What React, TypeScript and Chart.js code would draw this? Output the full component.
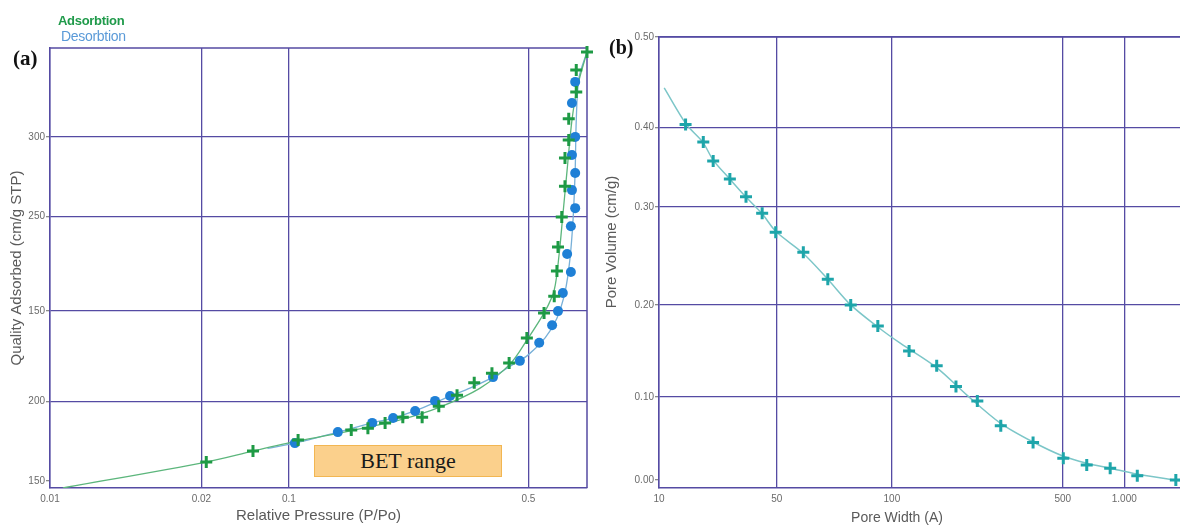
import React, { useEffect, useRef } from "react";
import { Chart, registerables } from "chart.js";

Chart.register(...registerables);

// ---------- Panel (a): N2 isotherm ----------
// The printed tick labels of this panel are unevenly spaced, so values are kept
// in the panel's own axis units (0–100 along each axis).
const isoXTickPos = [0, 28.2, 44.5, 89.1];
const isoXTickLabels = ["0.01", "0.02", "0.1", "0.5"];
const isoYTickPos = [1.6, 19.7, 40.2, 61.7, 79.8];
const isoYTickLabels = ["150", "200", "150", "250", "300"];

const adsorptionMarkX = [29.1, 37.8, 46.2, 56.1, 59.2, 62.4, 65.7, 69.3, 72.4, 75.8, 79.0, 82.3, 85.5, 88.8, 92.0, 93.9, 94.4, 94.6, 95.3, 95.9, 95.9, 96.6, 96.6, 98.0, 98.0, 100];
const adsorptionMarkY = [5.9, 8.4, 10.9, 13.2, 13.6, 14.8, 16.1, 16.1, 18.6, 21.1, 23.9, 26.1, 28.4, 34.1, 39.8, 43.6, 49.3, 54.8, 61.6, 68.6, 75.0, 79.1, 83.9, 90.0, 95.0, 99.1];

const desorptionMarkX = [97.8, 97.2, 97.8, 97.2, 97.8, 97.2, 97.8, 97.0, 96.3, 97.0, 95.5, 94.6, 93.5, 91.1, 87.5, 82.5, 74.5, 71.7, 68.0, 63.9, 60.0, 53.6, 45.6];
const desorptionMarkY = [92.3, 87.5, 79.8, 75.7, 71.6, 67.7, 63.6, 59.5, 53.2, 49.1, 44.3, 40.2, 37.0, 33.0, 28.9, 25.2, 20.9, 19.8, 17.5, 15.9, 14.8, 12.7, 10.2];

const adsorptionLineX = [2.4, 29.1, 37.8, 46.2, 55.9, 65.2, 72.6, 80.1, 85.7, 88.8, 92.2, 93.9, 94.8, 95.5, 96.3, 97.2, 98.3, 100];
const adsorptionLineY = [0, 5.9, 8.4, 10.7, 13.0, 15.5, 18.4, 22.7, 28.2, 33.6, 40.2, 45.0, 53.0, 62.0, 72.3, 83.6, 91.6, 99.1];

const desorptionLineX = [100, 98.5, 98.0, 97.8, 97.4, 96.8, 95.9, 94.4, 92.2, 89.0, 85.7, 82.5, 78.2, 74.5, 68.9, 63.9, 60.0, 53.6, 45.6, 40.5];
const desorptionLineY = [99.1, 93.2, 83.6, 72.3, 60.9, 51.8, 44.5, 38.6, 34.1, 30.2, 27.7, 25.2, 22.7, 20.9, 18.0, 15.9, 14.8, 12.7, 10.2, 9.0];

// ---------- Panel (b): pore size distribution ----------
const poreXTickPos = [0, 22.6, 44.7, 77.5, 89.3];
const poreXTickLabels = ["10", "50", "100", "500", "1.000"];
const poreYTickPos = [1.8, 20.2, 40.6, 62.3, 80.0, 100];
const poreYTickLabels = ["0.00", "0.10", "0.20", "0.30", "0.40", "0.50"];

const poreLineX = [1.0, 5.2, 8.4, 10.4, 13.6, 16.7, 19.8, 22.5, 27.6, 32.4, 36.8, 42.0, 46.3, 53.4, 59.1, 65.5, 71.8, 77.5, 82.1, 86.6, 91.7, 100];
const poreLineY = [88.7, 80.7, 76.7, 72.7, 68.5, 64.5, 60.8, 56.8, 52.1, 46.3, 40.6, 35.7, 32.1, 26.6, 20.6, 14.4, 10.2, 7.1, 5.5, 4.4, 3.1, 1.6];
const poreMarkX = [5.1, 8.5, 10.4, 13.6, 16.7, 19.8, 22.4, 27.7, 32.4, 36.8, 42.0, 48.0, 53.3, 57.0, 61.1, 65.6, 71.8, 77.6, 82.1, 86.6, 91.8, 99.2];
const poreMarkY = [80.6, 76.7, 72.5, 68.5, 64.6, 60.9, 56.7, 52.3, 46.3, 40.6, 35.9, 30.4, 27.1, 22.5, 19.3, 13.8, 10.1, 6.6, 5.1, 4.4, 2.7, 1.8];

const GRID = "#554ba3";
const TICK = "#6a6a6a";
const TITLE = "#5a5a5a";
const SANS = "'Liberation Sans', Arial, sans-serif";
const SERIF = "'Liberation Serif', 'Times New Roman', serif";

const pts = (xs: number[], ys: number[]) => xs.map((x, i) => ({ x, y: ys[i] }));

const framePlugin = {
  id: "frame",
  beforeDatasetsDraw(chart: any, _a: any, opts: any) {
    const { ctx, chartArea } = chart;
    const { left, top, right, bottom } = chartArea;
    ctx.save();
    ctx.strokeStyle = GRID;
    ctx.lineWidth = 1.5;
    ctx.beginPath();
    ctx.moveTo(left, top);
    ctx.lineTo(right, top);
    if (opts && opts.right) {
      ctx.moveTo(right, top);
      ctx.lineTo(right, bottom);
    }
    ctx.stroke();
    ctx.restore();
  },
};

function axis(
  positions: number[],
  labels: string[],
  vertical: boolean,
  size: number,
  title: string | null,
  titlePad: number
) {
  return {
    type: "linear",
    min: 0,
    max: 100,
    afterBuildTicks: (scale: any) => {
      scale.ticks = positions.map((v) => ({ value: v }));
    },
    afterFit: (scale: any) => {
      if (vertical) {
        scale.width = size;
        scale.paddingTop = 0;
        scale.paddingBottom = 0;
      } else {
        scale.height = size;
        scale.paddingLeft = 0;
        scale.paddingRight = 0;
      }
    },
    ticks: {
      autoSkip: false,
      maxRotation: 0,
      color: TICK,
      padding: vertical ? 1 : 5,
      font: { family: SANS, size: 10 },
      callback: (_v: any, i: number) => labels[i],
    },
    grid: {
      color: (c: any) => (vertical && c.index === 0 ? "rgba(0,0,0,0)" : GRID),
      tickColor: "#8a8a8a",
      lineWidth: 1.3,
      drawTicks: vertical,
      tickLength: 4,
    },
    border: { display: true, color: GRID, width: 1.5 },
    title: title
      ? {
          display: true,
          text: title,
          color: TITLE,
          font: { family: SANS, size: 15 },
          padding: vertical ? { top: titlePad, bottom: 0 } : { top: 0, bottom: titlePad },
        }
      : { display: false },
  };
}

export default function App() {
  const leftRef = useRef<HTMLCanvasElement | null>(null);
  const rightRef = useRef<HTMLCanvasElement | null>(null);

  useEffect(() => {
    const left = new Chart(leftRef.current as HTMLCanvasElement, {
      type: "scatter",
      data: {
        datasets: [
          {
            label: "Adsorbtion",
            data: pts(adsorptionMarkX, adsorptionMarkY),
            showLine: false,
            pointStyle: "cross",
            pointRadius: 6,
            borderWidth: 3,
            borderColor: "#1e9a45",
            backgroundColor: "#1e9a45",
            clip: false,
            order: 1,
          },
          {
            label: "Desorbtion",
            data: pts(desorptionMarkX, desorptionMarkY),
            showLine: false,
            pointStyle: "circle",
            pointRadius: 5,
            borderWidth: 0,
            backgroundColor: "#1f80d6",
            borderColor: "#1f80d6",
            order: 2,
          },
          {
            label: "Adsorbtion curve",
            data: pts(adsorptionLineX, adsorptionLineY),
            showLine: true,
            pointRadius: 0,
            borderWidth: 1.3,
            borderColor: "#5cb67c",
            tension: 0.3,
            order: 3,
          },
          {
            label: "Desorbtion curve",
            data: pts(desorptionLineX, desorptionLineY),
            showLine: true,
            pointRadius: 0,
            borderWidth: 1.3,
            borderColor: "#78b0d8",
            tension: 0.3,
            order: 4,
          },
        ],
      },
      options: {
        animation: false,
        responsive: false,
        events: [],
        layout: { autoPadding: false, padding: { top: 48, right: 13, left: 0, bottom: 0 } },
        plugins: { legend: { display: false }, tooltip: { enabled: false }, frame: { right: true } } as any,
        scales: {
          x: axis(isoXTickPos, isoXTickLabels, false, 38, "Relative Pressure (P/Po)", 1) as any,
          y: axis(isoYTickPos, isoYTickLabels, true, 50, "Quality Adsorbed (cm/g STP)", 8) as any,
        },
      },
      plugins: [framePlugin],
    });

    const right = new Chart(rightRef.current as HTMLCanvasElement, {
      type: "scatter",
      data: {
        datasets: [
          {
            label: "Pore volume",
            data: pts(poreMarkX, poreMarkY),
            showLine: false,
            pointStyle: "cross",
            pointRadius: 6,
            borderWidth: 3,
            borderColor: "#1ea5aa",
            backgroundColor: "#1ea5aa",
            clip: false,
            order: 1,
          },
          {
            label: "Pore volume curve",
            data: pts(poreLineX, poreLineY),
            showLine: true,
            pointRadius: 0,
            borderWidth: 1.5,
            borderColor: "#7cc6c8",
            tension: 0.3,
            order: 2,
          },
        ],
      },
      options: {
        animation: false,
        responsive: false,
        events: [],
        layout: { autoPadding: false, padding: { top: 37, right: 0, left: 0, bottom: 0 } },
        plugins: { legend: { display: false }, tooltip: { enabled: false }, frame: { right: false } } as any,
        scales: {
          x: axis(poreXTickPos, poreXTickLabels, false, 38, null, 0) as any,
          y: axis(poreYTickPos, poreYTickLabels, true, 59, null, 0) as any,
        },
      },
      plugins: [framePlugin],
    });

    return () => {
      left.destroy();
      right.destroy();
    };
  }, []);

  const abs = (o: React.CSSProperties): React.CSSProperties => ({ position: "absolute", margin: 0, ...o });

  return (
    <div style={{ position: "absolute", left: 0, top: 0, width: 1180, height: 526, background: "#fff", overflow: "hidden" }}>
      <canvas ref={leftRef} width={600} height={526} style={abs({ left: 0, top: 0, width: 600, height: 526 })} />
      <canvas ref={rightRef} width={580} height={526} style={abs({ left: 600, top: 0, width: 580, height: 526 })} />

      <div style={abs({ left: 58, top: 14, font: `bold 13px ${SANS}`, lineHeight: "13px", color: "#1f9a4a", letterSpacing: "-0.3px" })}>Adsorbtion</div>
      <div style={abs({ left: 61, top: 29, font: `14px ${SANS}`, lineHeight: "14px", color: "#5a9ad8", letterSpacing: "-0.3px" })}>Desorbtion</div>

      <div style={abs({ left: 13, top: 48, font: `bold 21px ${SERIF}`, lineHeight: "21px", color: "#111" })}>(a)</div>
      <div style={abs({ left: 609, top: 37, font: `bold 20px ${SERIF}`, lineHeight: "20px", color: "#111" })}>(b)</div>

      <div
        style={abs({
          left: 314,
          top: 445,
          width: 188,
          height: 32,
          boxSizing: "border-box",
          background: "#fbd08c",
          border: "1px solid #f2b652",
          display: "flex",
          alignItems: "center",
          justifyContent: "center",
          font: `22px ${SERIF}`,
          color: "#1a1a1a",
        })}
      >
        BET range
      </div>

      <div
        style={abs({
          left: 610,
          top: 242,
          transform: "translate(-50%, -50%) rotate(-90deg)",
          whiteSpace: "nowrap",
          font: `15px ${SANS}`,
          color: TITLE,
        })}
      >
        Pore Volume (cm/g)
      </div>
      <div
        style={abs({
          left: 897,
          top: 517,
          transform: "translate(-50%, -50%)",
          whiteSpace: "nowrap",
          font: `14px ${SANS}`,
          color: TITLE,
        })}
      >
        Pore Width (A)
      </div>
    </div>
  );
}
